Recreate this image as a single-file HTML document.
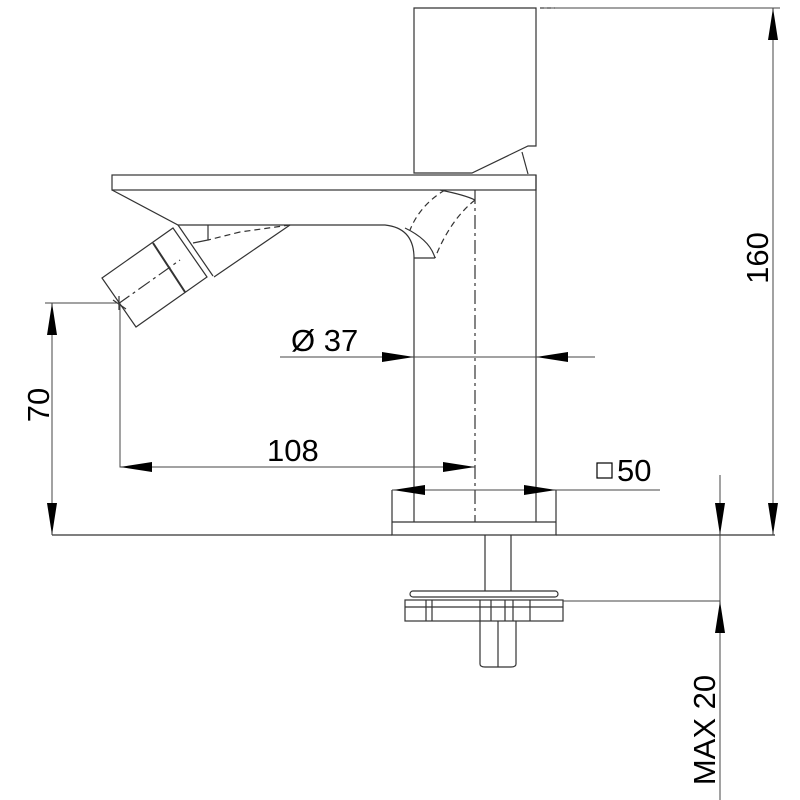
<!DOCTYPE html>
<html><head><style>html,body{margin:0;padding:0;background:#fff}svg{display:block}
text{font-family:"Liberation Sans",sans-serif;font-size:31px;fill:#000}</style></head>
<body>
<svg width="800" height="800" viewBox="0 0 800 800" xmlns="http://www.w3.org/2000/svg">
<g fill="none" stroke="#333" stroke-width="1.2">
<!-- handle -->
<path d="M414 8 L536 8 L536 146 L528 146 L472 173 L414 173 Z"/>
<path d="M522 152 L528 174"/>
<path d="M540 8 L555 8" stroke-dasharray="4 3"/>
<!-- spout top plate -->
<rect x="112" y="175" width="424" height="15"/>
<path d="M112 190 L178 225 L385 225 Q414 228 414 258 L414 522"/>
<path d="M536 175 L536 522"/>
<path d="M475 190 L475 522" stroke-dasharray="14 4 3 4"/>
<path d="M440 190 Q465 195 475 200"/>
<path d="M405 228 Q430 240 435 258 M414 258 L435 258"/>
<path d="M445 190 Q420 205 410 230" stroke-dasharray="6 4"/>
<path d="M475 200 Q450 220 435 258" stroke-dasharray="6 4"/>
<!-- spout lower -->
<path d="M290 225 L214 277"/>
<path d="M208 225 L208 240 L193 243"/>
<path d="M240 232 L208 240" stroke-dasharray="6 4"/>
<path d="M290 225 L240 232" stroke-dasharray="6 4"/>
<path d="M178 225 L213 276"/>
<!-- nozzle -->
<path d="M102 278 L173 228 L207 277 L136 327 Z"/>
<path d="M153 243 L185 292" stroke-width="2"/>
<path d="M118 304 L180 260" stroke-dasharray="14 4 3 4"/>
<path d="M113 300 L126 309 M119 296 L119 310"/>
<!-- base -->
<path d="M392 490 L392 535 L556 535 L556 490"/>
<path d="M392 522 L556 522"/>
<!-- ground -->
<path d="M52 535 L392 535 M556 535 L775 535"/>
<!-- stem -->
<path d="M485 535 L485 591 M511 535 L511 591"/>
<rect x="410" y="591" width="148" height="6" rx="3"/>
<rect x="405" y="600" width="158" height="21"/>
<path d="M405 607 L563 607 M426 600 L426 621 M432 600 L432 621 M480 600 L480 621 M491 600 L491 621 M505 600 L505 621 M513 600 L513 621 M530 600 L530 621"/>
<path d="M480 621 L480 664 Q480 667 485 667 L511 667 Q516 667 516 664 L516 621 M498 621 L498 667"/>
</g>
<!-- dimension lines -->
<g fill="none" stroke="#444" stroke-width="1">
<path d="M45 303 L119 303 M52 303 L52 535"/>
<path d="M120 303 L120 467 L475 467"/>
<path d="M280 357 L595 357"/>
<path d="M392 490 L660 490"/>
<path d="M773 8 L773 535 M540 8 L780 8"/>
<path d="M720 475 L720 800 M563 601 L720 601"/>
</g>
<g fill="#000">
<polygon points="52,303 47,335 57,335"/>
<polygon points="52,535 47,503 57,503"/>
<polygon points="120,467 152,462 152,472"/>
<polygon points="475,467 443,462 443,472"/>
<polygon points="414,357 382,352 382,362"/>
<polygon points="536,357 568,352 568,362"/>
<polygon points="393,490 425,485 425,495"/>
<polygon points="556,490 524,485 524,495"/>
<polygon points="773,8 768,40 778,40"/>
<polygon points="773,535 768,503 778,503"/>
<polygon points="720,535 715,503 725,503"/>
<polygon points="720,601 715,633 725,633"/>
</g>
<text x="267" y="461">108</text>
<text x="291" y="351">Ø 37</text>
<rect x="597" y="463" width="15" height="15" fill="none" stroke="#000" stroke-width="1.2"/>
<text x="617" y="481">50</text>
<text transform="translate(49,405) rotate(-90)" text-anchor="middle">70</text>
<text transform="translate(768,258) rotate(-90)" text-anchor="middle">160</text>
<text transform="translate(715,730) rotate(-90)" text-anchor="middle">MAX 20</text>
</svg>
</body></html>
